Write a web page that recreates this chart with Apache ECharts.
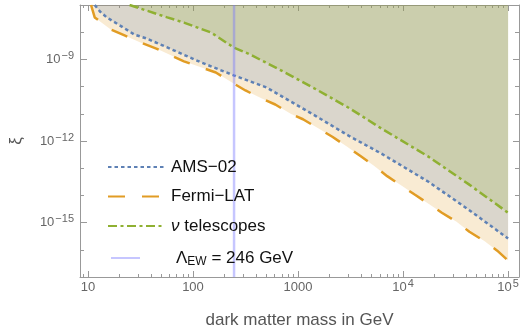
<!DOCTYPE html>
<html>
<head>
<meta charset="utf-8">
<script src="https://cdn.jsdelivr.net/npm/echarts@6.0.0/dist/echarts.min.js"></script>
<style>
  html, body { margin: 0; padding: 0; background: #fff; }
  #chart { width: 525px; height: 334px; }
</style>
</head>
<body>
<div id="chart"></div>
<script>
// AMS-02 bound (blue, dotted)
const amsMass = [11.6, 13.0, 15.1, 20, 27.7, 36, 56.9, 119, 244, 499, 722, 1480, 3090, 6340, 17600, 42000, 1e5];
const amsXi = [1e-7, 5.8e-8, 3.5e-8, 1.8e-8, 8.2e-9, 5.9e-9, 2.75e-9, 7.8e-10, 2.6e-10, 9.4e-11, 4.1e-11, 8.2e-12, 1.5e-12, 3.3e-13, 3.1e-14, 3.0e-15, 2.6e-16];

// Fermi-LAT bound (orange, dashed)
const fermiMass = [10.7, 11.6, 16.5, 22.3, 31.6, 44.8, 59.4, 82, 119, 165, 233, 316, 448, 607, 859, 1114, 1614, 2140, 2960, 3930, 5320, 7060, 9800, 13000, 18800, 23400, 32300, 42800, 59400, 78800, 1e5];
const fermiXi = [1e-7, 3.5e-8, 1.26e-8, 7.6e-9, 4.2e-9, 2.5e-9, 1.5e-9, 8.5e-10, 5.1e-10, 3.3e-10, 1.44e-10, 7.2e-11, 3.7e-11, 2.2e-11, 9.8e-12, 6.3e-12, 2.7e-12, 1.4e-12, 6.0e-13, 2.8e-13, 1.2e-13, 5.1e-14, 2.2e-14, 1.05e-14, 4.1e-15, 2.3e-15, 1.07e-15, 4.6e-16, 2.1e-16, 9.3e-17, 4.0e-17];

// neutrino telescopes bound (green, dash-dot)
const nuMass = [24.9, 56.9, 82, 148, 244, 352, 722, 1480, 3090, 6340, 17600, 42000, 1e5];
const nuXi = [1e-7, 3.5e-8, 2.26e-8, 9.8e-9, 2.75e-9, 1.5e-9, 3.6e-10, 8.0e-11, 1.6e-11, 2.75e-12, 2.6e-13, 2.6e-14, 2.3e-15];

// electroweak scale marker
const ewMass = [246, 246];
const ewXi = [1e-17, 1e-7];

const xMajorTicks = [10, 100, 1000, 1e4, 1e5];
const yMajorTicks = [1e-15, 1e-12, 1e-9];
const yMinorTicks = [1e-17, 1e-16, 1e-14, 1e-13, 1e-11, 1e-10, 1e-8, 1e-7];

const xMin = 8.4, xMax = 1.27e5;
const yMin = 1e-17, yMax = 1e-7;

const FONT = 'Liberation Sans, Arial, sans-serif';
const GREY = '#999';

const xMinorTicks = [9];
[10, 100, 1000, 1e4].forEach(d => {
  for (let k = 2; k <= 9; k++) xMinorTicks.push(k * d);
});

const pairs = (xs, ys) => xs.map((x, i) => [x, ys[i]]);

function powLabel(v) {
  const e = Math.round(Math.log10(v));
  return '{b|10}{s|' + (e < 0 ? '\u2212' + (-e) : e) + '}';
}

const labelRich = {
  b: { fontSize: 13, color: '#666', fontFamily: FONT, lineHeight: 18 },
  s: { fontSize: 11, color: '#666', fontFamily: FONT, lineHeight: 10, verticalAlign: 'top', padding: [0, 0, 0, 1] }
};

function curve(name, xs, ys, color, dash) {
  return {
    name: name,
    type: 'line',
    data: pairs(xs, ys),
    symbol: 'none',
    lineStyle: { color: color, width: 2.5, type: dash },
    itemStyle: { color: color },
    areaStyle: { origin: 'end', color: color, opacity: 0.2 },
    z: 2
  };
}

function xAxisDef(pos, ticks, len, main) {
  return {
    type: 'log', min: xMin, max: xMax, position: pos,
    axisLine: { show: main, lineStyle: { color: GREY, width: 1 } },
    axisTick: { inside: true, length: len, customValues: ticks, lineStyle: { color: GREY } },
    axisLabel: { show: false },
    splitLine: { show: false }
  };
}

function yAxisDef(pos, ticks, len, main) {
  return {
    type: 'log', min: yMin, max: yMax, position: pos,
    axisLine: { show: main, lineStyle: { color: GREY, width: 1 } },
    axisTick: { inside: true, length: len, customValues: ticks, lineStyle: { color: GREY } },
    axisLabel: { show: false },
    splitLine: { show: false }
  };
}

const chart = echarts.init(document.getElementById('chart'));

const xMain = xAxisDef('bottom', xMajorTicks, 6, true);
xMain.axisLabel = {
  show: true, customValues: xMajorTicks, margin: 1, rich: labelRich,
  formatter: v => {
    const e = Math.round(Math.log10(v));
    return e <= 3 ? '{b|' + Math.round(v) + '}' : powLabel(v);
  }
};
xMain.name = 'dark matter mass in GeV';
xMain.nameLocation = 'middle';
xMain.nameGap = 35;
xMain.nameTextStyle = { fontSize: 17, color: '#555', fontFamily: FONT };

const yMain = yAxisDef('left', yMajorTicks, 7, true);
yMain.axisLabel = {
  show: true, customValues: yMajorTicks, margin: 6, rich: labelRich,
  formatter: v => powLabel(v)
};
yMain.name = '\u03BE';
yMain.nameLocation = 'middle';
yMain.nameGap = 55;
yMain.nameTextStyle = { fontSize: 17, color: '#555', fontFamily: FONT };

const legendText = {
  fontSize: 17, color: '#111', fontFamily: FONT, lineHeight: 20
};

const option = {
  animation: false,
  backgroundColor: '#fff',
  grid: { left: 75, right: 6, top: 5, bottom: 55, containLabel: false },
  xAxis: [
    xMain,
    xAxisDef('bottom', xMinorTicks, 3, false),
    xAxisDef('top', xMajorTicks, 6, true),
    xAxisDef('top', xMinorTicks, 3, false)
  ],
  yAxis: [
    yMain,
    yAxisDef('left', yMinorTicks, 4, false),
    yAxisDef('right', yMajorTicks, 6, true),
    yAxisDef('right', yMinorTicks, 4, false)
  ],
  legend: [
    {
      data: ['AMS\u221202', 'Fermi\u2212LAT', '\u03BD telescopes'],
      orient: 'vertical', left: 102, top: 152,
      itemWidth: 56, itemHeight: 12, itemGap: 9.5,
      itemStyle: { opacity: 0 },
      textStyle: Object.assign({}, legendText, {
        padding: [0, 0, 0, 2],
        rich: { i: { fontSize: 17, fontStyle: 'italic', color: '#111', fontFamily: FONT } }
      }),
      formatter: n => n.charAt(0) === '\u03BD' ? '{i|\u03BD}' + n.slice(1) : n
    },
    {
      data: ['\u039BEW = 246 GeV'],
      orient: 'vertical', left: 105, top: 243,
      itemWidth: 29, itemHeight: 12,
      itemStyle: { opacity: 0 },
      textStyle: Object.assign({}, legendText, {
        padding: [0, 0, 0, 31],
        rich: {
          a: { fontSize: 17, color: '#111', fontFamily: FONT, lineHeight: 20 },
          sub: { fontSize: 12, color: '#111', fontFamily: FONT, lineHeight: 12, verticalAlign: 'bottom' }
        }
      }),
      formatter: () => '{a|\u039B}{sub|EW}{a| = 246 GeV}'
    }
  ],
  series: [
    curve('Fermi\u2212LAT', fermiMass, fermiXi, '#E19C24', [17, 17]),
    curve('AMS\u221202', amsMass, amsXi, '#5E81B5', [3.5, 3]),
    curve('\u03BD telescopes', nuMass, nuXi, '#8FB032', [9, 3.5, 3, 3.5]),
    {
      name: '\u039BEW = 246 GeV',
      type: 'line',
      data: pairs(ewMass, ewXi),
      symbol: 'none',
      lineStyle: { color: 'rgba(120,120,255,0.42)', width: 2.5 },
      itemStyle: { color: 'rgba(120,120,255,0.42)' },
      z: 3
    }
  ]
};

chart.setOption(option);
</script>
</body>
</html>
